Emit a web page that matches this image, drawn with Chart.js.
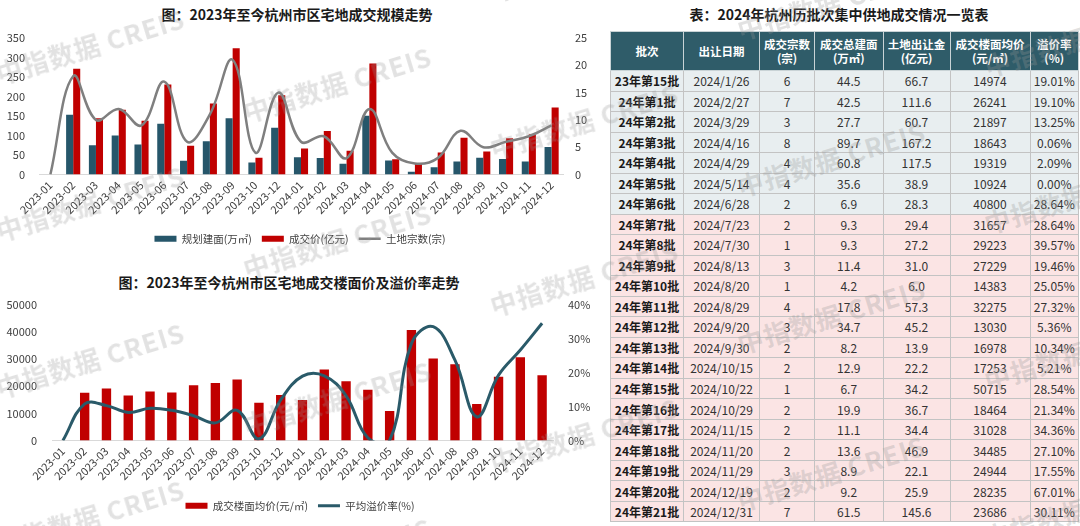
<!DOCTYPE html>
<html>
<head>
<meta charset="utf-8">
<script src="https://cdn.jsdelivr.net/npm/chart.js@4.4.1/dist/chart.umd.min.js"></script>
<style>
body { margin: 0; width: 1080px; height: 526px; overflow: hidden; background: #fff; position: relative; font-family: "Noto Sans CJK SC", "Open Sans", sans-serif; }
.title { position: absolute; margin: 0; font-size: 14px; font-weight: bold; color: #1a1a1a; white-space: nowrap; transform: translate(-50%, -50%); line-height: 1; }
.chartbox { position: absolute; left: 0; width: 600px; }
#tbl { position: absolute; left: 610px; top: 31px; width: 468px; border-collapse: collapse; table-layout: fixed; font-size: 12px; color: #333; }
#tbl th { background: #2f5c69; color: #fff; font-weight: bold; font-size: 11.5px; line-height: 1.25; border: 1px solid #c9d3d6; padding: 0; }
#tbl td { text-align: center; border: 1px solid #c3c3c3; padding: 0; white-space: nowrap; }
#tbl td:first-child { font-weight: bold; color: #1a1a1a; }
#tbl tr.g td { background: #e8eef0; }
#tbl tr.p td { background: #fbe4e4; }
.wm { position: absolute; font-family: "Noto Sans CJK SC", "Open Sans", sans-serif; font-weight: bold; font-size: 26px; color: rgba(150,150,150,0.28); white-space: nowrap; transform: translate(-50%, -50%) rotate(-17deg); pointer-events: none; z-index: 10; letter-spacing: 1px; }
</style>
</head>
<body>
<div class="title" style="left:297px; top:14px;">图：2023年至今杭州市区宅地成交规模走势</div>
<div class="chartbox" style="top:0; height:254px;"><canvas id="c1"></canvas></div>
<div class="title" style="left:289px; top:282px;">图：2023年至今杭州市区宅地成交楼面价及溢价率走势</div>
<div class="chartbox" style="top:266px; height:255px;"><canvas id="c2"></canvas></div>
<div class="title" style="left:839px; top:14px;">表：2024年杭州历批次集中供地成交情况一览表</div>
<table id="tbl"></table>

<script>
// chart data
const months = ['2023-01','2023-02','2023-03','2023-04','2023-05','2023-06','2023-07','2023-08','2023-09','2023-10','2023-12',
  '2024-01','2024-02','2024-03','2024-04','2024-05','2024-06','2024-07','2024-08','2024-09','2024-10','2024-11','2024-12'];
const buildArea = [0, 153, 75, 100, 77, 130, 35, 85, 144, 31, 120, 44.5, 42.5, 27.7, 150.5, 35.6, 6.9, 18.6, 33.4, 42.9, 39.5, 33.6, 70.7];
const dealValue = [0, 271, 144, 166, 138, 231, 74, 182, 324, 43, 203, 66.7, 111.6, 60.7, 284.7, 38.9, 28.3, 56.6, 94.3, 59.1, 93.1, 103.4, 171.5];
const landCount = [0, 18, 10, 12, 9, 17, 6, 11, 21, 4, 15, 6, 7, 3, 12, 4, 2, 3, 8, 5, 6, 7, 9];
const avgPrice = [0, 17600, 19200, 16600, 18100, 17700, 20400, 21200, 22500, 13900, 16800,
  14974, 26241, 21897, 18700, 10924, 40800, 30300, 28100, 13500, 23500, 30700, 24100];
const premiumRate = [0, 10.8, 10.3, 8.3, 9.5, 8.9, 7.3, 5.2, 8.9, 0.5, 12, 19, 19.1, 13.2, 0.8, 0, 28.6, 33.6, 23.7, 7, 19.3, 26.7, 34.6];

// table data
const tableHead = ['批次', '出让日期', '成交宗数<br>(宗)', '成交总建面<br>(万㎡)', '土地出让金<br>(亿元)', '成交楼面均价<br>(元/㎡)', '溢价率<br>(%)'];
const colWidths = [73, 76, 55, 68.5, 67, 80, 48.5];
const batches = ['23年第15批','24年第1批','24年第2批','24年第3批','24年第4批','24年第5批','24年第6批','24年第7批','24年第8批','24年第9批','24年第10批',
  '24年第11批','24年第12批','24年第13批','24年第14批','24年第15批','24年第16批','24年第17批','24年第18批','24年第19批','24年第20批','24年第21批'];
const dates = ['2024/1/26','2024/2/27','2024/3/29','2024/4/16','2024/4/29','2024/5/14','2024/6/28','2024/7/23','2024/7/30','2024/8/13','2024/8/20',
  '2024/8/29','2024/9/20','2024/9/30','2024/10/15','2024/10/22','2024/10/29','2024/11/15','2024/11/20','2024/11/29','2024/12/19','2024/12/31'];
const lots = ['6','7','3','8','4','4','2','2','1','3','1','4','3','2','2','1','2','2','2','3','2','7'];
const areas = ['44.5','42.5','27.7','89.7','60.8','35.6','6.9','9.3','9.3','11.4','4.2','17.8','34.7','8.2','12.9','6.7','19.9','11.1','13.6','8.9','9.2','61.5'];
const fees = ['66.7','111.6','60.7','167.2','117.5','38.9','28.3','29.4','27.2','31.0','6.0','57.3','45.2','13.9','22.2','34.2','36.7','34.4','46.9','22.1','25.9','145.6'];
const unitPrices = ['14974','26241','21897','18643','19319','10924','40800','31657','29223','27229','14383','32275','13030','16978','17253','50715','18464','31028','34485','24944','28235','23686'];
const premiums = ['19.01%','19.10%','13.25%','0.06%','2.09%','0.00%','28.64%','28.64%','39.57%','19.46%','25.05%','27.32%','5.36%','10.34%','5.21%','28.54%','21.34%','34.36%','27.10%','17.55%','67.01%','30.11%'];

const TEAL = '#26566a';
const RED = '#c00000';
const tickColor = '#404040';
const tickFont = { family: '"Noto Sans CJK SC", "Open Sans", sans-serif', size: 11 };
const legendFont = { family: '"Noto Sans CJK SC", "Open Sans", sans-serif', size: 10.5 };

function xAxis(h) {
    return {
        grid: { display: false, drawTicks: false },
        border: { color: '#d9d9d9', width: 1 },
        ticks: { font: tickFont, color: tickColor, minRotation: 45, maxRotation: 45, autoSkip: false, padding: 4 },
        afterFit: function(s) { s.height = h; }
    };
}

function yAxis(pos, w, min, max, step, pad, fmt) {
    return {
        position: pos, min: min, max: max,
        grid: { display: false, drawTicks: false },
        border: { display: false },
        ticks: { stepSize: step, font: tickFont, color: tickColor, padding: pad, callback: fmt || (v => v) },
        afterFit: function(s) { s.width = w; }
    };
}

const legendOpts = {
    position: 'bottom',
    labels: {
        usePointStyle: true, pointStyleWidth: 22, boxHeight: 6, padding: 10,
        font: legendFont, color: tickColor,
        sort: (a, b) => a.datasetIndex - b.datasetIndex
    }
};

// chart 1: 成交规模
new Chart(document.getElementById('c1'), {
    type: 'bar',
    data: {
        labels: months,
        datasets: [
            { label: '规划建面(万㎡)', data: buildArea, backgroundColor: TEAL, yAxisID: 'y', order: 1, pointStyle: 'rect',
              categoryPercentage: 0.62, barPercentage: 1 },
            { label: '成交价(亿元)', data: dealValue, backgroundColor: RED, yAxisID: 'y', order: 1, pointStyle: 'rect',
              categoryPercentage: 0.62, barPercentage: 1 },
            { type: 'line', label: '土地宗数(宗)', data: landCount, yAxisID: 'y1', order: 0, pointStyle: 'line',
              borderColor: '#7f7f7f', backgroundColor: '#7f7f7f', borderWidth: 2.5, pointRadius: 0, tension: 0.4, capBezierPoints: false }
        ]
    },
    options: {
        responsive: true, maintainAspectRatio: false, animation: false,
        layout: { padding: { top: 38, left: 0, right: 0, bottom: 0 } },
        plugins: { legend: legendOpts, tooltip: { enabled: false } },
        scales: {
            x: xAxis(49),
            y: yAxis('left', 39, 0, 350, 50, 14),
            y1: yAxis('right', 37, 0, 25, 5, 12)
        }
    }
});

// chart 2: 楼面价及溢价率
new Chart(document.getElementById('c2'), {
    type: 'bar',
    data: {
        labels: months,
        datasets: [
            { label: '成交楼面均价(元/㎡)', data: avgPrice, backgroundColor: RED, yAxisID: 'y', order: 1, pointStyle: 'rect',
              categoryPercentage: 1, barPercentage: 0.43 },
            { type: 'line', label: '平均溢价率(%)', data: premiumRate, yAxisID: 'y1', order: 0, pointStyle: 'line',
              borderColor: '#2a5a69', backgroundColor: '#2a5a69', borderWidth: 3, pointRadius: 0, tension: 0.4, capBezierPoints: false }
        ]
    },
    options: {
        responsive: true, maintainAspectRatio: false, animation: false,
        layout: { padding: { top: 39, left: 0, right: 0, bottom: 0 } },
        plugins: { legend: legendOpts, tooltip: { enabled: false } },
        scales: {
            x: xAxis(50),
            y: yAxis('left', 52, 0, 50000, 10000, 15),
            y1: yAxis('right', 47, 0, 40, 10, 15, v => v + '%')
        }
    }
});

// table
const tbl = document.getElementById('tbl');
let html = '<colgroup>' + colWidths.map(w => `<col style="width:${w}px">`).join('') + '</colgroup>';
html += '<thead><tr style="height:39px">' + tableHead.map(h => `<th>${h}</th>`).join('') + '</tr></thead><tbody>';
for (let i = 0; i < batches.length; i++) {
    const cls = i < 7 ? 'g' : 'p';
    html += `<tr class="${cls}" style="height:20.53px"><td>${batches[i]}</td><td>${dates[i]}</td><td>${lots[i]}</td><td>${areas[i]}</td>` +
        `<td>${fees[i]}</td><td>${unitPrices[i]}</td><td>${premiums[i]}</td></tr>`;
}
html += '</tbody>';
tbl.innerHTML = html;

// watermarks
for (let c = 0; c < 5; c++) {
    for (let k = -1; k < 4; k++) {
        const x = 90 + 247 * c;
        const y = 45 + 37.5 * c + 157 * k;
        if (y < -40 || y > 570) continue;
        const d = document.createElement('div');
        d.className = 'wm';
        d.style.left = x + 'px';
        d.style.top = y + 'px';
        d.textContent = '中指数据 CREIS';
        document.body.appendChild(d);
    }
}
</script>
</body>
</html>
